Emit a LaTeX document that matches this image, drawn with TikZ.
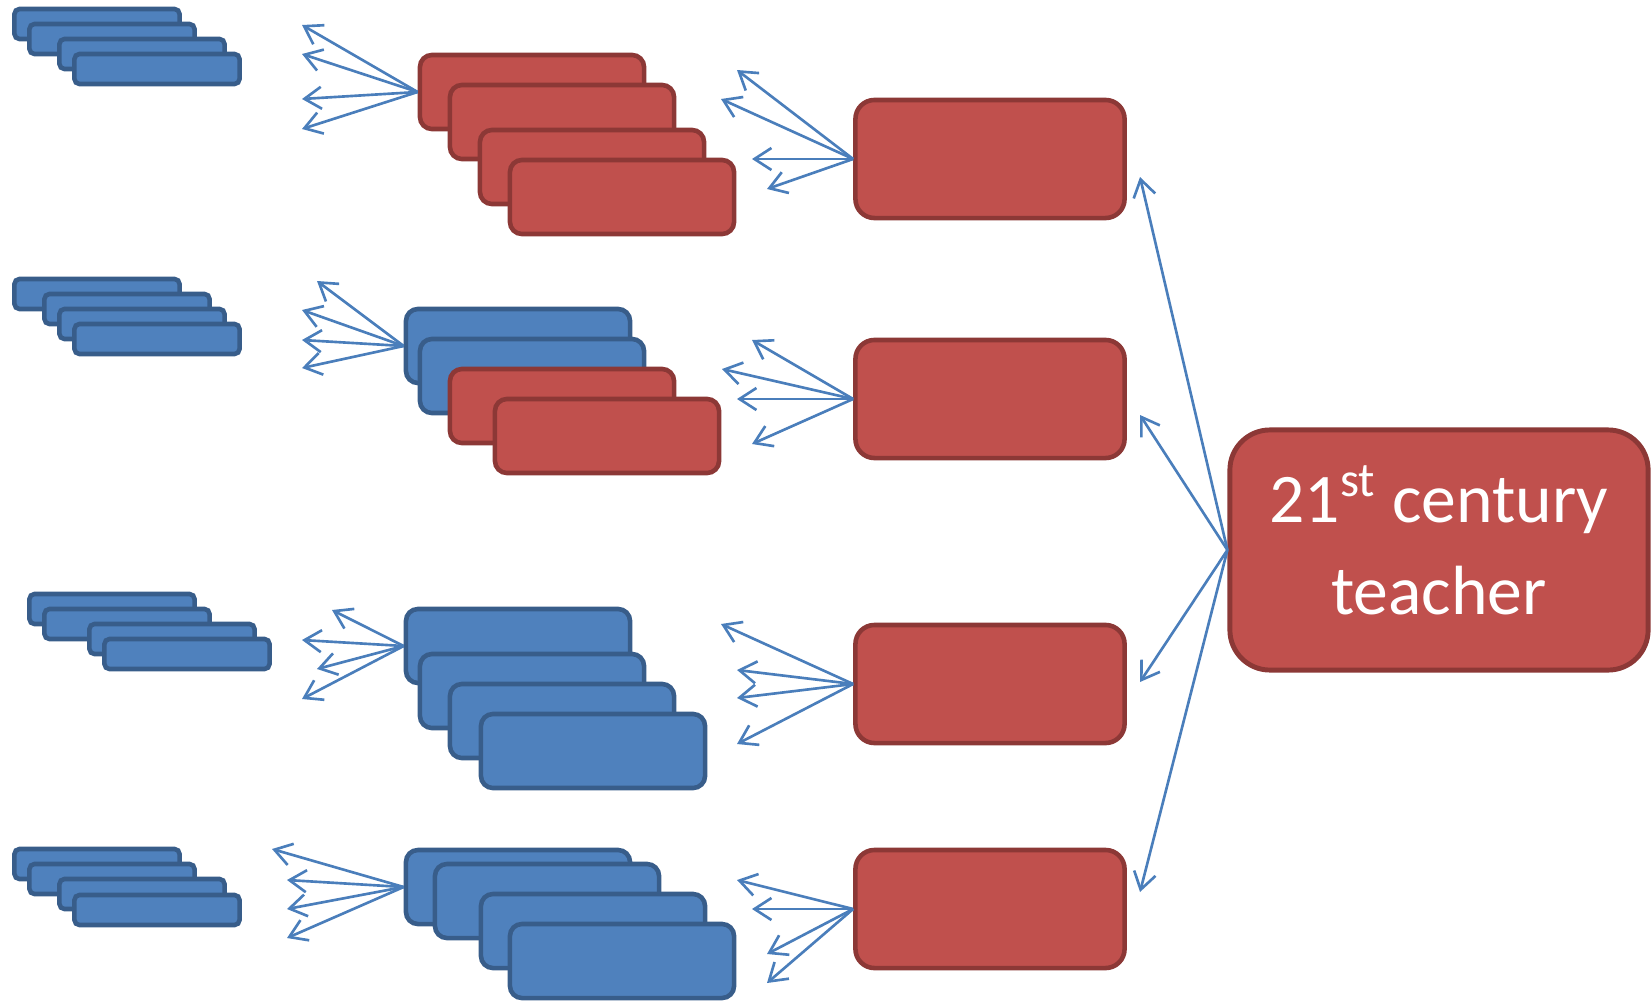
\documentclass[tikz,border=0pt]{standalone}
\usepackage{fontspec}
\setmainfont{Carlito}
\usetikzlibrary{arrows.meta}
\definecolor{boxblue}{HTML}{4F81BD}
\definecolor{lineblue}{HTML}{385D8A}
\definecolor{boxred}{HTML}{C0504D}
\definecolor{linered}{HTML}{8C3836}
\definecolor{arrowblue}{HTML}{4A7EBB}
\begin{document}
\begin{tikzpicture}[x=0.01cm, y=-0.01cm, >={Straight Barb[length=1.7mm,width=2.2mm]},
    bar/.style={draw=lineblue, fill=boxblue, line width=1.3pt, rounded corners=0.05cm, minimum width=1.65cm, minimum height=0.30cm, inner sep=0pt},
    card/.style={line width=1.3pt, rounded corners=0.12cm, minimum width=2.24cm, minimum height=0.74cm, inner sep=0pt},
    bluecard/.style={card, draw=lineblue, fill=boxblue},
    redcard/.style={card, draw=linered, fill=boxred},
    topic/.style={draw=linered, fill=boxred, line width=1.3pt, rounded corners=0.19cm, minimum width=2.69cm, minimum height=1.18cm, inner sep=0pt},
    hub/.style={draw=linered, fill=boxred, line width=1.4pt, rounded corners=0.4cm, minimum width=4.18cm, minimum height=2.40cm},
    hubtext/.style={text=white, align=center, font=\fontsize{19.8}{26}\selectfont, yshift=0.1cm},
    arr/.style={->, draw=arrowblue, line width=0.75pt}]
\useasboundingbox (0,0) rectangle (1652,1000);

% small bars, left column
\foreach \x/\y [count=\i] in {97/24,112/39,142/54,157/69} \node[bar] (a\i) at (\x,\y) {};
\foreach \x/\y [count=\i] in {97/294,127/309,142/324,157/339} \node[bar] (b\i) at (\x,\y) {};
\foreach \x/\y [count=\i] in {112/609,127/624,172/639,187/654} \node[bar] (c\i) at (\x,\y) {};
\foreach \x/\y [count=\i] in {97/864,112/879,142/894,157/910} \node[bar] (d\i) at (\x,\y) {};

% stacked cards, middle column
\node[redcard] (s1) at (532,92) {};
\node[redcard] (s2) at (562,122) {};
\node[redcard] (s3) at (592,167) {};
\node[redcard] (s4) at (622,197) {};

\node[bluecard] (t1) at (518,346) {};
\node[bluecard] (t2) at (532,376) {};
\node[redcard] (t3) at (562,406) {};
\node[redcard] (t4) at (607,436) {};

\node[bluecard] (u1) at (518,646) {};
\node[bluecard] (u2) at (532,691) {};
\node[bluecard] (u3) at (562,721) {};
\node[bluecard] (u4) at (593,751) {};

\node[bluecard] (v1) at (518,887) {};
\node[bluecard] (v2) at (547,901) {};
\node[bluecard] (v3) at (593,931) {};
\node[bluecard] (v4) at (622,961) {};

% topics and hub
\node[topic] (m1) at (990,159) {};
\node[topic] (m2) at (990,399) {};
\node[topic] (m3) at (990,684) {};
\node[topic] (m4) at (990,909) {};
\node[hub, label={[hubtext]center:21\textsuperscript{st} century\\teacher}] (teacher) at (1439,550) {};

% arrows
\foreach \tx/\ty [count=\i] in {302/25,302/54,302/99,302/129} {\coordinate (as\i) at (\tx,\ty); \draw[arr] (s1.west) -- (as\i);}
\foreach \tx/\ty [count=\i] in {317/281,302/310,302/340,302/368} {\coordinate (at\i) at (\tx,\ty); \draw[arr] (t1.west) -- (at\i);}
\foreach \tx/\ty [count=\i] in {332/610,302/640,317/669,302/699} {\coordinate (au\i) at (\tx,\ty); \draw[arr] (u1.west) -- (au\i);}
\foreach \tx/\ty [count=\i] in {272/849,287/880,287/909,287/938} {\coordinate (av\i) at (\tx,\ty); \draw[arr] (v1.west) -- (av\i);}

\foreach \tx/\ty [count=\i] in {737/70,721/99,752/159,767/189} {\coordinate (bm\i) at (\tx,\ty); \draw[arr] (m1.west) -- (bm\i);}
\foreach \tx/\ty [count=\i] in {752/340,722/369,737/399,752/444} {\coordinate (bn\i) at (\tx,\ty); \draw[arr] (m2.west) -- (bn\i);}
\foreach \tx/\ty [count=\i] in {721/624,737/670,737/698,737/744} {\coordinate (bo\i) at (\tx,\ty); \draw[arr] (m3.west) -- (bo\i);}
\foreach \tx/\ty [count=\i] in {737/880,752/909,767/954,767/983} {\coordinate (bp\i) at (\tx,\ty); \draw[arr] (m4.west) -- (bp\i);}

\foreach \tx/\ty [count=\i] in {1140/177,1140/415,1140/682,1140/892} {\coordinate (h\i) at (\tx,\ty); \draw[arr] (teacher.west) -- (h\i);}
\end{tikzpicture}
\end{document}
